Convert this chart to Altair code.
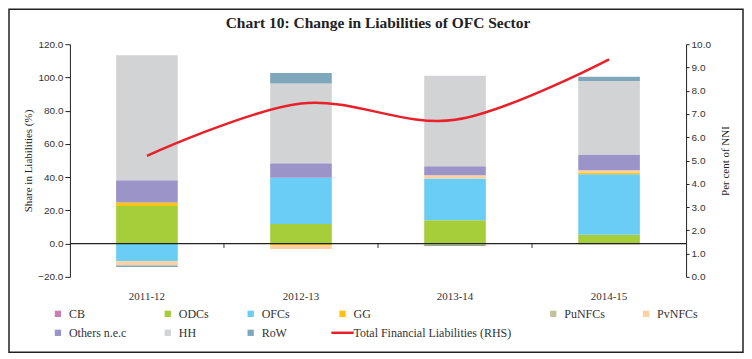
import altair as alt
import pandas as pd

years = ["2011-12", "2012-13", "2013-14", "2014-15"]
series = ["CB", "ODCs", "OFCs", "GG", "PuNFCs", "PvNFCs", "Others n.e.c", "HH", "RoW"]
cb = [0.0, 0.0, 0.0, -0.4]
odcs = [22.6, 11.8, 14.0, 5.4]
ofcs = [-10.6, 27.8, 25.2, 36.4]
gg = [2.2, -0.8, -0.6, 1.0]
punfcs = [0.0, 0.0, 0.0, 0.0]
pvnfcs = [-2.6, -2.4, 2.0, 1.4]
others = [13.4, 8.8, 5.4, 9.4]
hh = [75.2, 48.0, 54.4, 44.2]
row = [-0.8, 6.2, -0.8, 2.6]
line_name = "Total Financial Liabilities (RHS)"
total_rhs = [5.2, 7.45, 6.75, 9.35]
colors = ["#c981b4", "#a6ce39", "#69cdf5", "#ffc20e", "#c4c29c", "#fdd0a2",
          "#9a94c8", "#d1d3d4", "#7fa7bc"]
line_color = "#e8202a"
left_ticks = [-20, 0, 20, 40, 60, 80, 100, 120]
right_ticks = [0, 1, 2, 3, 4, 5, 6, 7, 8, 9, 10]
title_text = "Chart 10: Change in Liabilities of OFC Sector"

W, H = 617, 233
STEP = W / len(years)
SERIF = "Liberation Serif"
SANS = "Liberation Sans"

vals = [cb, odcs, ofcs, gg, punfcs, pvnfcs, others, hh, row]
bar_rows = []
for i, (s, arr) in enumerate(zip(series, vals)):
    for y, v in zip(years, arr):
        bar_rows.append({"year": y, "series": s, "value": v, "idx": i})
df_bars = pd.DataFrame(bar_rows)
df_line = pd.DataFrame({"year": years, "v": total_rhs, "series": [line_name] * len(years)})

color_scale = alt.Scale(domain=series + [line_name], range=colors + [line_color])
is_line = f"datum.label == '{line_name}'"
legend = alt.Legend(
    title=None, orient="none", legendX=-18, legendY=264, direction="horizontal",
    columns=6, columnPadding=35, rowPadding=7, padding=0,
    labelFont=SERIF, labelFontSize=12, labelColor="#333",
    symbolType=alt.ExprRef(expr=f"{is_line} ? 'stroke' : 'square'"),
    symbolSize=alt.ExprRef(expr=f"{is_line} ? 500 : 40"),
    symbolStrokeWidth=alt.ExprRef(expr=f"{is_line} ? 2.5 : 0"),
    symbolStrokeColor=alt.ExprRef(expr=f"{is_line} ? '{line_color}' : 'transparent'"),
    labelOffset=5,
)

x_scale = alt.Scale(domain=years, paddingInner=0.6, paddingOuter=0.3)
x_axis = alt.Axis(title=None, domain=False, ticks=False, labelPadding=14, labelAngle=0,
                  labelFont=SERIF, labelFontSize=11, labelColor="#333")
y_left_scale = alt.Scale(domain=[-20, 120], nice=False)
y_left_axis = alt.Axis(title="Share in Liabilities (%)", values=left_ticks, format=".1f",
                       grid=False, domainColor="#222", tickColor="#222", tickSize=5,
                       labelFont=SANS, labelFontSize=10, labelColor="#333", labelPadding=2,
                       titleFont=SERIF, titleFontSize=11, titleFontWeight="normal",
                       titleColor="#222", titlePadding=4)

bars = alt.Chart(df_bars).mark_bar().encode(
    x=alt.X("year:N", scale=x_scale, axis=x_axis, sort=years),
    y=alt.Y("value:Q", scale=y_left_scale, stack="zero", axis=y_left_axis),
    color=alt.Color("series:N", scale=color_scale, legend=legend),
    order=alt.Order("idx:Q"),
)

zero = alt.Chart(pd.DataFrame({"z": [0]})).mark_rule(color="#222", strokeWidth=1.2).encode(
    y=alt.Y("z:Q", scale=y_left_scale, axis=y_left_axis)
)

ticks = alt.Chart(pd.DataFrame({"year": years[1:], "y0": [0] * 3, "y1": [-2.6] * 3})).mark_rule(
    color="#333", strokeWidth=1, xOffset=-STEP / 2
).encode(
    x=alt.X("year:N", scale=x_scale, axis=x_axis, sort=years),
    y=alt.Y("y0:Q", scale=y_left_scale, axis=y_left_axis),
    y2="y1:Q",
)

left = alt.layer(bars, zero, ticks)

line = alt.Chart(df_line).mark_line(strokeWidth=2.5, interpolate="cardinal").encode(
    x=alt.X("year:N", scale=x_scale, axis=x_axis, sort=years),
    y=alt.Y("v:Q", scale=alt.Scale(domain=[0, 10], nice=False),
            axis=alt.Axis(orient="right", title="Per cent of NNI", values=right_ticks, format=".1f",
                          grid=False, domainColor="#222", tickColor="#222", tickSize=3,
                          labelFont=SANS, labelFontSize=10, labelColor="#333", labelPadding=2,
                          titleFont=SERIF, titleFontSize=11, titleFontWeight="normal",
                          titleColor="#222", titlePadding=20, titleAngle=270)),
    color=alt.Color("series:N", scale=color_scale, legend=legend),
)

frame = alt.Chart(pd.DataFrame({"a": [0]})).mark_rect(
    filled=False, stroke="#222", strokeWidth=1.5
).encode(x=alt.value(-61), x2=alt.value(674), y=alt.value(-35), y2=alt.value(308.5))

title = alt.Chart(pd.DataFrame({"t": [title_text]})).mark_text(
    font=SERIF, fontSize=15.5, fontWeight="bold", color="#222", align="center", baseline="middle"
).encode(x=alt.value(W / 2), y=alt.value(-21), text="t:N")

chart = alt.layer(left, line, frame, title).resolve_scale(y="independent").properties(
    width=W, height=H, padding=0, background="white"
).configure_view(stroke=None)

chart.save("out.html", embed_options={"renderer": "svg", "actions": False})
